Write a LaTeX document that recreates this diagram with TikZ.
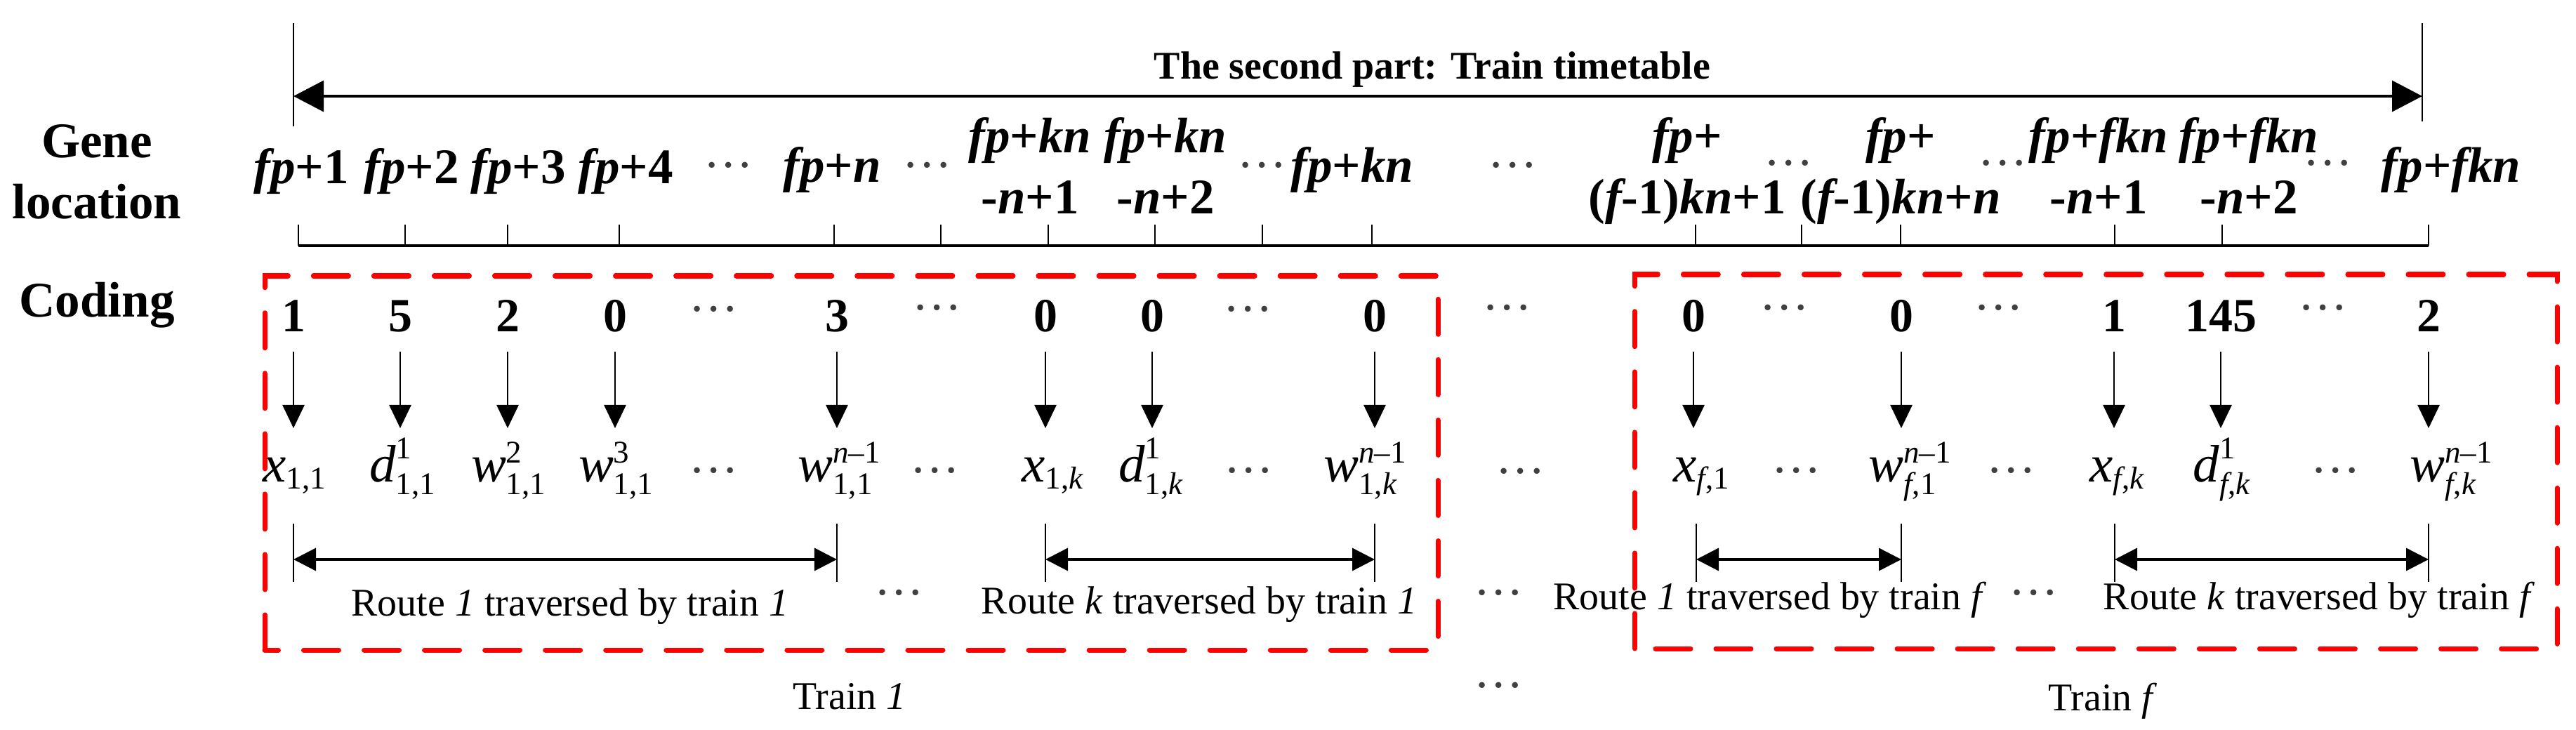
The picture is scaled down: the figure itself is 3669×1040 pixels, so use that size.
\documentclass[tikz,border=0pt]{standalone}
\usepackage{fontspec}
\setmainfont{Liberation Serif}
\usepackage{amsmath}
\usetikzlibrary{arrows.meta}

\newcommand{\gfont}{\fontsize{20.2}{24.5}\selectfont\bfseries}
\newcommand{\nfont}{\fontsize{19.3}{23}\selectfont\bfseries}
\newcommand{\mfont}{\fontsize{21.3}{25}\selectfont}
\newcommand{\sfontx}{\fontsize{12.8}{14}\selectfont\mdseries\upshape}
\newcommand{\rfont}{\fontsize{15.9}{19}\selectfont}
\newcommand{\dfont}{\fontsize{20}{24}\selectfont}
\newcommand{\It}[1]{{\itshape #1}}
\newcommand{\FPi}{\It{fp}}
\newcommand{\TL}[2]{\begin{tabular}[t]{@{}c@{}}#1\\#2\end{tabular}}
\newcommand{\MS}[2]{$\mbox{\itshape #1}_{\mbox{\sfontx #2}}$}
\newcommand{\MSS}[3]{$\mbox{\itshape #1}^{\mbox{\sfontx #2}}_{\mbox{\sfontx #3}}$}

\tikzset{
  glab/.style={font=\gfont, inner sep=0pt, anchor=base},
  side/.style={font=\gfont, inner sep=0pt, anchor=base},
  num/.style={font=\nfont, inner sep=0pt, anchor=base},
  mth/.style={font=\mfont, inner sep=0pt, anchor=base},
  rte/.style={font=\rfont, inner sep=0pt, anchor=base},
  ttl/.style={font=\rfont\bfseries, inner sep=0pt, anchor=base},
  dts/.style={font=\dfont, text=black!75, inner sep=0pt, anchor=base, yshift=-0.035cm},
  tar/.style={line width=0.035cm, {Triangle[length=0.43cm,width=0.44cm]}-{Triangle[length=0.43cm,width=0.44cm]}},
  vln/.style={line width=0.025cm},
  axisln/.style={line width=0.04cm},
  tickln/.style={line width=0.025cm},
  dar/.style={line width=0.025cm, -{Triangle[length=0.33cm,width=0.31cm]}, shorten <=0.28cm},
  rar/.style={line width=0.035cm, {Triangle[length=0.32cm,width=0.32cm]}-{Triangle[length=0.32cm,width=0.32cm]}},
  barln/.style={line width=0.025cm},
  redbox/.style={draw=red, line width=0.07cm, line cap=round, dash pattern=on 0.5cm off 0.36cm}
}

\begin{document}
\begin{tikzpicture}[x=0.01cm,y=-0.01cm]
\useasboundingbox (0,0) rectangle (3669,1040);

% ---- top span arrow
\coordinate (tL) at (418,137);
\coordinate (tR) at (3450,137);
\draw[tar] (tL) -- (tR);
\draw[vln] (tL) ++(0,-104) -- ++(0,147);
\draw[vln] (tR) ++(0,-104) -- ++(0,140);
\node[ttl] (title) at (2040,113) {The second part: Train timetable};

% ---- side labels
\node[side] (gene) at (138,225) {\TL{Gene}{location}};
\node[side] (coding) at (138,452) {Coding};

% ---- gene location labels
\node[glab] (g1) at (429,262) {\FPi+1};
\node[glab] (g2) at (586,262) {\FPi+2};
\node[glab] (g3) at (738,262) {\FPi+3};
\node[glab] (g4) at (891,262) {\FPi+4};
\node[dts] (gd1) at (1038,235) {…};
\node[glab] (g5) at (1185,260) {\FPi+\It{n}};
\node[dts] (gd2) at (1321,235) {…};
\node[glab] (g6) at (1467,218) {\TL{\FPi+\It{kn}}{-\It{n}+1}};
\node[glab] (g7) at (1660,218) {\TL{\FPi+\It{kn}}{-\It{n}+2}};
\node[dts] (gd3) at (1798,235) {…};
\node[glab] (g8) at (1926,260) {\FPi+\It{kn}};
\node[dts] (gd4) at (2155,235) {…};
\node[glab] (g9) at (2403,218) {\TL{\FPi+}{(\It{f}-1)\It{kn}+1}};
\node[dts] (gd5) at (2548,232) {…};
\node[glab] (g10) at (2707,218) {\TL{\FPi+}{(\It{f}-1)\It{kn}+\It{n}}};
\node[dts] (gd6) at (2853,232) {…};
\node[glab] (g11) at (2989,218) {\TL{\FPi+\It{fkn}}{-\It{n}+1}};
\node[glab] (g12) at (3203,218) {\TL{\FPi+\It{fkn}}{-\It{n}+2}};
\node[dts] (gd7) at (3316,232) {…};
\node[glab] (g13) at (3491,260) {\FPi+\It{fkn}};

% ---- axis with ticks
\coordinate (axL) at (425,350);
\coordinate (axR) at (3459,350);
\draw[axisln] (axL) -- (axR);
\foreach \t in {425,577,723,882,1188,1340,1493,1645,1798,1954,2415,2566,2707,3012,3165,3459}
  \draw[tickln] (\t,350) -- (\t,320);

% ---- coding numbers
\node[num] (n1) at (418,472) {1};
\node[num] (n2) at (570,472) {5};
\node[num] (n3) at (723,472) {2};
\node[num] (n4) at (876,472) {0};
\node[dts] (nd1) at (1017,440) {…};
\node[num] (n5) at (1192,472) {3};
\node[dts] (nd2) at (1335,438) {…};
\node[num] (n6) at (1489,472) {0};
\node[num] (n7) at (1641,472) {0};
\node[dts] (nd3) at (1778,440) {…};
\node[num] (n8) at (1958,472) {0};
\node[dts] (nd4) at (2147,438) {…};
\node[num] (n9) at (2412,472) {0};
\node[dts] (nd5) at (2542,438) {…};
\node[num] (n10) at (2708,472) {0};
\node[dts] (nd6) at (2847,438) {…};
\node[num] (n11) at (3011,472) {1};
\node[num] (n12) at (3163,472) {145};
\node[dts] (nd7) at (3309,438) {…};
\node[num] (n13) at (3459,472) {2};

% ---- variables
\node[mth] (m1) at (420,686) {\MS{x}{1,1}};
\node[mth] (m2) at (574,686) {\MSS{d}{1}{1,1}};
\node[mth] (m3) at (725,686) {\MSS{w}{2}{1,1}};
\node[mth] (m4) at (878,686) {\MSS{w}{3}{1,1}};
\node[dts] (md1) at (1017,670) {…};
\node[mth] (m5) at (1196,686) {\MSS{w}{\It{n}–1}{1,1}};
\node[dts] (md2) at (1332,670) {…};
\node[mth] (m6) at (1500,686) {\MS{x}{1,\It{k}}};
\node[mth] (m7) at (1640,686) {\MSS{d}{1}{1,\It{k}}};
\node[dts] (md3) at (1779,670) {…};
\node[mth] (m8) at (1945,686) {\MSS{w}{\It{n}–1}{1,\It{k}}};
\node[dts] (md4) at (2166,671) {…};
\node[mth] (m9) at (2424,686) {\MS{x}{\It{f},1}};
\node[dts] (md5) at (2559,670) {…};
\node[mth] (m10) at (2721,686) {\MSS{w}{\It{n}–1}{\It{f},1}};
\node[dts] (md6) at (2865,670) {…};
\node[mth] (m11) at (3016,686) {\MS{x}{\It{f},\It{k}}};
\node[mth] (m12) at (3165,686) {\MSS{d}{1}{\It{f},\It{k}}};
\node[dts] (md7) at (3327,670) {…};
\node[mth] (m13) at (3492,686) {\MSS{w}{\It{n}–1}{\It{f},\It{k}}};

% ---- down arrows
\coordinate (mrow) at (0,610);
\foreach \k in {1,...,13}
  \draw[dar] (n\k.south) -- (n\k.south |- mrow);

% ---- route spans
\coordinate (r1a) at (418,797);  \coordinate (r1b) at (1192,797);
\coordinate (r2a) at (1489,797); \coordinate (r2b) at (1958,797);
\coordinate (r3a) at (2416,797); \coordinate (r3b) at (2708,797);
\coordinate (r4a) at (3012,797); \coordinate (r4b) at (3459,797);
\foreach \r in {1,2,3,4} {
  \draw[rar] (r\r a) -- (r\r b);
  \draw[barln] (r\r a) ++(0,-51) -- ++(0,83);
  \draw[barln] (r\r b) ++(0,-51) -- ++(0,83);
}
\node[rte] (rl1) at (812,877) {Route \textit{1} traversed by train \textit{1}};
\node[dts] (rd1) at (1281,844) {…};
\node[rte] (rl2) at (1708,874) {Route \textit{k} traversed by train \textit{1}};
\node[dts] (rd2) at (2135,844) {…};
\node[rte] (rl3) at (2521,868) {Route \textit{1} traversed by train \textit{f}};
\node[dts] (rd3) at (2897,844) {…};
\node[rte] (rl4) at (3303,868) {Route \textit{k} traversed by train \textit{f}};

% ---- train labels
\node[rte] (t1) at (1210,1010) {Train \textit{1}};
\node[dts] (td) at (2135,976) {…};
\node[rte] (tf) at (2995,1012) {Train \textit{f}};

% ---- red dashed groups
\coordinate (b1a) at (377,926); \coordinate (b1b) at (2048,393);
\coordinate (b2a) at (2328,924); \coordinate (b2b) at (3642,391);
\draw[redbox] (b1a) rectangle (b1b);
\draw[redbox] (b2a) rectangle (b2b);
\end{tikzpicture}
\end{document}
